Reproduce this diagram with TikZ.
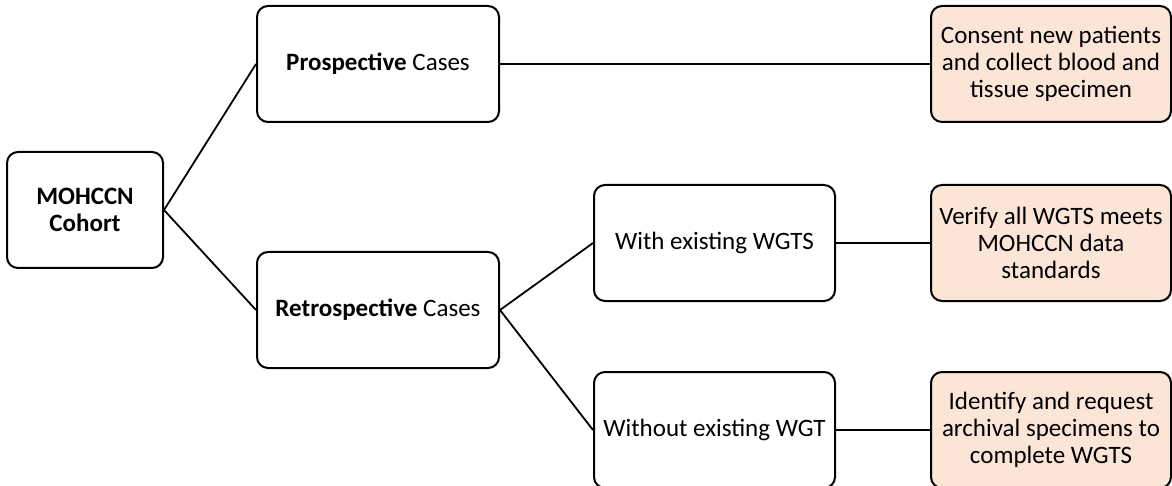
\documentclass[tikz,border=0pt]{standalone}
\usepackage{fontspec}
\setmainfont{Carlito}
\definecolor{peach}{HTML}{FBE5D6}
\begin{document}
\begin{tikzpicture}[x=1pt,y=-1pt,
  box/.style={draw=black, line width=2pt, rounded corners=11pt, fill=white,
    minimum width=241pt, minimum height=116pt, align=center, inner sep=1pt,
    font=\fontsize{25}{27}\selectfont, anchor=center},
  actbox/.style={box, fill=peach, minimum width=240pt},
  link/.style={draw=black, line width=1.8pt}]
\useasboundingbox (0,0) rectangle (1172,486);
\node[box, minimum width=156pt] (cohort) at (85,210) {\textbf{MOHCCN}\\\textbf{Cohort}};
\node[box, minimum width=242pt] (pro) at (378,64) {\textbf{Prospective} Cases};
\node[box, minimum width=242pt] (retro) at (378,310) {\textbf{Retrospective} Cases};
\node[box] (with) at (714.5,243) {With existing WGTS};
\node[box] (without) at (714.5,430) {Without existing WGT};
\node[actbox] (a1) at (1051,64) {Consent new patients\\and collect blood and\\tissue specimen};
\node[actbox] (a2) at (1051,243) {Verify all WGTS meets\\MOHCCN data\\standards};
\node[actbox] (a3) at (1051,430) {Identify and request\\archival specimens to\\complete WGTS};
\draw[link] (cohort.east) -- (pro.west);
\draw[link] (cohort.east) -- (retro.west);
\draw[link] (retro.east) -- (with.west);
\draw[link] (retro.east) -- (without.west);
\draw[link] (pro.east) -- (a1.west);
\draw[link] (with.east) -- (a2.west);
\draw[link] (without.east) -- (a3.west);
\end{tikzpicture}
\end{document}
